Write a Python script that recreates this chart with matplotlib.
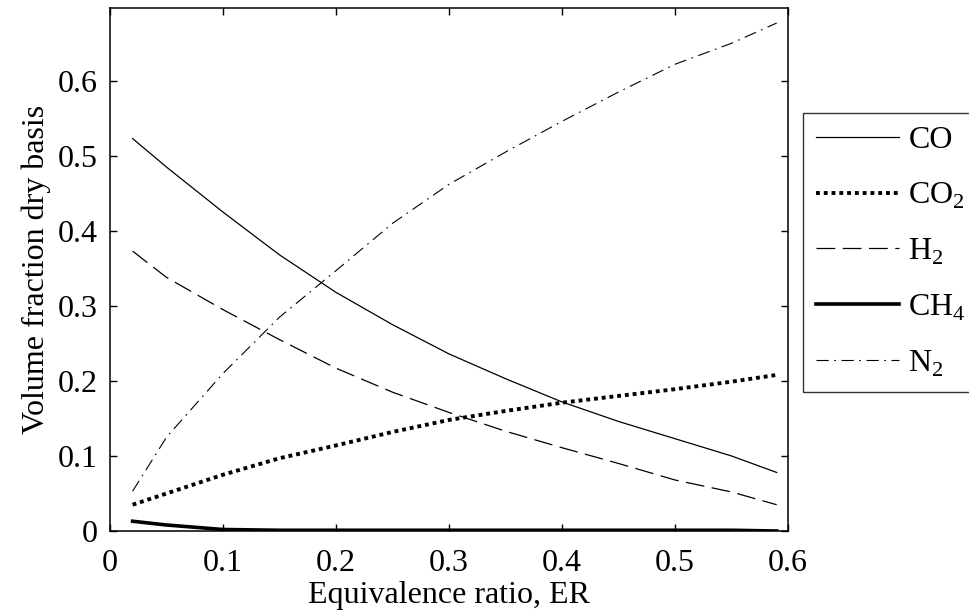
import matplotlib
matplotlib.use("Agg")
from matplotlib import pyplot as plt

# equivalence ratio (x) and dry-basis volume fractions
er = [0.02, 0.05, 0.10, 0.15, 0.20, 0.25, 0.30, 0.35, 0.40, 0.45, 0.50, 0.55, 0.59]
co = [0.523, 0.485, 0.425, 0.368, 0.318, 0.275, 0.236, 0.203, 0.172, 0.146, 0.123, 0.100, 0.078]
co2 = [0.035, 0.050, 0.075, 0.097, 0.114, 0.132, 0.148, 0.160, 0.171, 0.180, 0.189, 0.199, 0.208]
h2 = [0.373, 0.338, 0.295, 0.255, 0.217, 0.185, 0.158, 0.133, 0.111, 0.090, 0.068, 0.052, 0.035]
ch4 = [0.013, 0.008, 0.002, 0.001, 0.001, 0.001, 0.001, 0.001, 0.001, 0.001, 0.001, 0.001, 0.0]
n2 = [0.053, 0.125, 0.210, 0.285, 0.347, 0.410, 0.462, 0.505, 0.546, 0.585, 0.622, 0.650, 0.677]

xticks = [0, 0.1, 0.2, 0.3, 0.4, 0.5, 0.6]
yticks = [0, 0.1, 0.2, 0.3, 0.4, 0.5, 0.6]

plt.rcParams['font.family'] = ['Liberation Serif', 'DejaVu Serif']
plt.rcParams['mathtext.fontset'] = 'custom'
plt.rcParams['mathtext.rm'] = 'Liberation Serif'
plt.rcParams['font.size'] = 23

fig = plt.figure(figsize=(9.69, 6.16), dpi=100)
ax = fig.add_axes([110/969, 1 - 531/616, 678/969, 523/616])

ax.plot(er, co, color='black', lw=0.9, label='CO')
ax.plot(er, co2, color='black', lw=2.8, dashes=(1.0, 1.0), label=r'CO$_{\mathrm{2}}$')
ax.plot(er, h2, color='black', lw=0.9, dashes=(15, 6), label=r'H$_{\mathrm{2}}$')
ax.plot(er, ch4, color='black', lw=2.6, label=r'CH$_{\mathrm{4}}$')
ax.plot(er, n2, color='black', lw=0.8, dashes=(11, 5, 1.5, 5), label=r'N$_{\mathrm{2}}$')

ax.set_xlim(0, 0.6)
ax.set_ylim(0, 0.697)
ax.set_xticks(xticks)
ax.set_xticklabels(['0', '0.1', '0.2', '0.3', '0.4', '0.5', '0.6'])
ax.set_yticks(yticks)
ax.set_yticklabels(['0', '0.1', '0.2', '0.3', '0.4', '0.5', '0.6'])
ax.tick_params(direction='in', top=True, right=True, length=5, width=1,
               labelsize=23)
ax.tick_params(axis='x', pad=13)
ax.tick_params(axis='y', pad=9)
for s in ax.spines.values():
    s.set_linewidth(1.1)

ax.set_xlabel('Equivalence ratio, ER', fontsize=23, labelpad=2)
ax.set_ylabel('Volume fraction dry basis', fontsize=23, labelpad=5)

leg = fig.legend(loc='upper left', bbox_to_anchor=(803/969, 1 - 113/616),
                 fontsize=23, frameon=True, fancybox=False, handlelength=2.6,
                 handletextpad=0.3, borderpad=0.4, labelspacing=0.8,
                 borderaxespad=0)
leg.get_frame().set_edgecolor('black')
leg.get_frame().set_linewidth(1.0)

fig.savefig('out.png', dpi=100)
